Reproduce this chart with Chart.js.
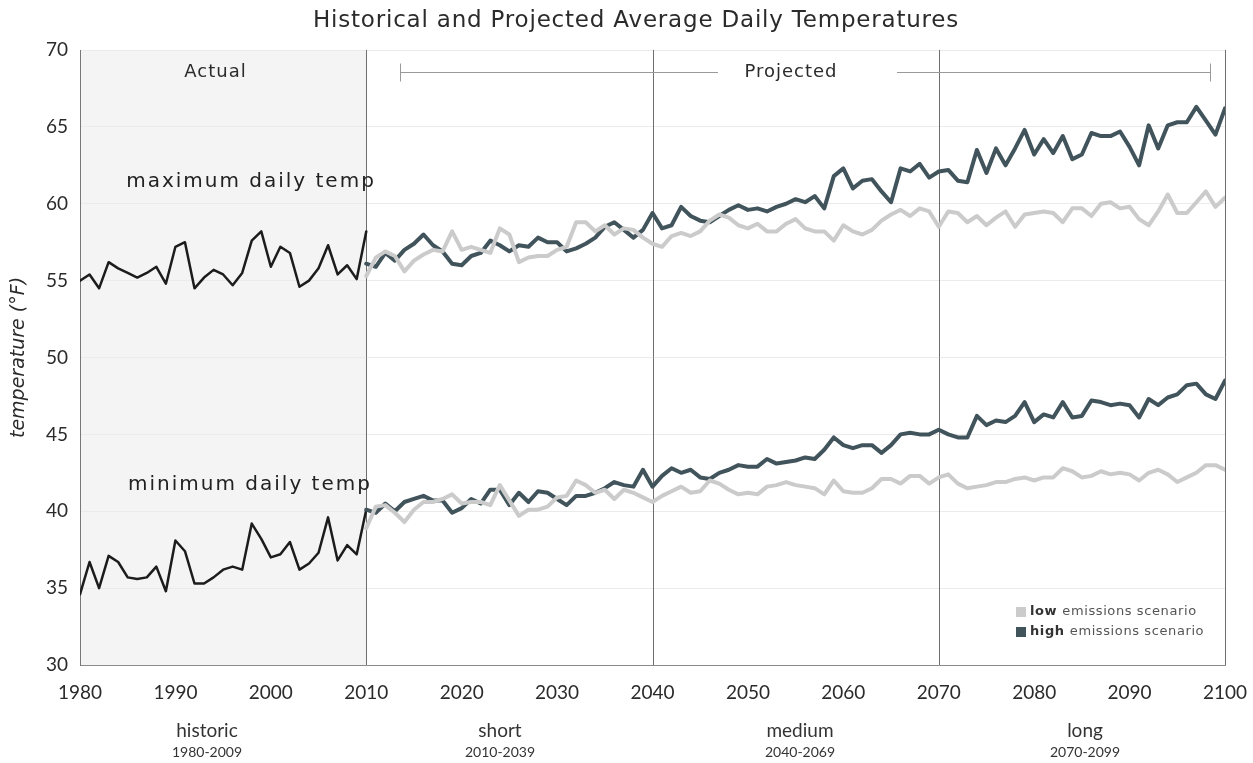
<!DOCTYPE html>
<html>
<head>
<meta charset="utf-8">
<title>Historical and Projected Average Daily Temperatures</title>
<script src="https://cdn.jsdelivr.net/npm/chart.js@4.4.1/dist/chart.umd.min.js"></script>
<style>
  html, body { margin: 0; padding: 0; background: #fff; }
  #wrap { width: 1253px; height: 763px; }
</style>
</head>
<body>
<div id="wrap"><canvas id="tempChart" width="1253" height="763"></canvas></div>
<script>
// years
const histStart = 1980;
const projStart = 2010;

// historic observed (1980-2010)
const histMax = [55.0, 55.4, 54.5, 56.2, 55.8, 55.5, 55.2, 55.5, 55.9, 54.8, 57.2, 57.5, 54.5, 55.2, 55.7, 55.4,
  54.7, 55.5, 57.6, 58.2, 55.9, 57.2, 56.8, 54.6, 55.0, 55.8, 57.3, 55.4, 56.0, 55.1, 58.2];
const histMin = [34.6, 36.7, 35.0, 37.1, 36.7, 35.7, 35.6, 35.7, 36.4, 34.8, 38.1, 37.4, 35.3, 35.3, 35.7, 36.2,
  36.4, 36.2, 39.2, 38.2, 37.0, 37.2, 38.0, 36.2, 36.6, 37.3, 39.6, 36.8, 37.8, 37.2, 40.1];

// projections (2010-2100)
const highMax = [56.1, 55.9, 56.8, 56.3, 57.0, 57.4, 58.0, 57.3, 56.9, 56.1,
  56.0, 56.6, 56.8, 57.6, 57.3, 56.9, 57.3, 57.2, 57.8, 57.5,
  57.5, 56.9, 57.1, 57.4, 57.8, 58.5, 58.8, 58.3, 57.8, 58.3,
  59.4, 58.4, 58.6, 59.8, 59.2, 58.9, 58.8, 59.2, 59.6, 59.9,
  59.6, 59.7, 59.5, 59.8, 60.0, 60.3, 60.1, 60.5, 59.7, 61.8,
  62.3, 61.0, 61.5, 61.6, 60.8, 60.1, 62.3, 62.1, 62.6, 61.7,
  62.1, 62.2, 61.5, 61.4, 63.5, 62.0, 63.6, 62.5, 63.6, 64.8,
  63.2, 64.2, 63.3, 64.4, 62.9, 63.2, 64.6, 64.4, 64.4, 64.7,
  63.7, 62.5, 65.1, 63.6, 65.1, 65.3, 65.3, 66.3, 65.4, 64.5,
  66.2];
const lowMax = [55.3, 56.5, 56.9, 56.6, 55.6, 56.3, 56.7, 57.0, 56.9, 58.2,
  57.0, 57.2, 57.0, 56.8, 58.4, 58.0, 56.2, 56.5, 56.6, 56.6,
  57.0, 57.2, 58.8, 58.8, 58.2, 58.6, 58.0, 58.4, 58.3, 57.8,
  57.4, 57.2, 57.9, 58.1, 57.9, 58.2, 58.9, 59.3, 59.1, 58.6,
  58.4, 58.7, 58.2, 58.2, 58.7, 59.0, 58.4, 58.2, 58.2, 57.6,
  58.6, 58.2, 58.0, 58.3, 58.9, 59.3, 59.6, 59.2, 59.7, 59.5,
  58.5, 59.5, 59.4, 58.8, 59.2, 58.6, 59.1, 59.5, 58.5, 59.3,
  59.4, 59.5, 59.4, 58.8, 59.7, 59.7, 59.2, 60.0, 60.1, 59.7,
  59.8, 59.0, 58.6, 59.5, 60.6, 59.4, 59.4, 60.1, 60.8, 59.8,
  60.4];
const highMin = [40.1, 39.9, 40.5, 40.0, 40.6, 40.8, 41.0, 40.7, 40.7, 39.9,
  40.2, 40.8, 40.5, 41.4, 41.4, 40.4, 41.2, 40.6, 41.3, 41.2,
  40.8, 40.4, 41.0, 41.0, 41.2, 41.5, 41.9, 41.7, 41.6, 42.7,
  41.6, 42.3, 42.8, 42.5, 42.7, 42.2, 42.1, 42.5, 42.7, 43.0,
  42.9, 42.9, 43.4, 43.1, 43.2, 43.3, 43.5, 43.4, 44.0, 44.8,
  44.3, 44.1, 44.3, 44.3, 43.8, 44.3, 45.0, 45.1, 45.0, 45.0,
  45.3, 45.0, 44.8, 44.8, 46.2, 45.6, 45.9, 45.8, 46.2, 47.1,
  45.8, 46.3, 46.1, 47.1, 46.1, 46.2, 47.2, 47.1, 46.9, 47.0,
  46.9, 46.1, 47.3, 46.9, 47.4, 47.6, 48.2, 48.3, 47.6, 47.3,
  48.5];
const lowMin = [38.9, 40.3, 40.4, 39.9, 39.3, 40.1, 40.6, 40.6, 40.8, 41.1,
  40.5, 40.6, 40.6, 40.4, 41.7, 40.7, 39.7, 40.1, 40.1, 40.3,
  40.9, 41.0, 42.0, 41.7, 41.2, 41.4, 40.8, 41.4, 41.2, 40.9,
  40.6, 41.0, 41.3, 41.6, 41.2, 41.3, 42.0, 41.8, 41.4, 41.1,
  41.2, 41.1, 41.6, 41.7, 41.9, 41.7, 41.6, 41.5, 41.1, 42.0,
  41.3, 41.2, 41.2, 41.5, 42.1, 42.1, 41.8, 42.3, 42.3, 41.8,
  42.2, 42.4, 41.8, 41.5, 41.6, 41.7, 41.9, 41.9, 42.1, 42.2,
  42.0, 42.2, 42.2, 42.8, 42.6, 42.2, 42.3, 42.6, 42.4, 42.5,
  42.4, 42.0, 42.5, 42.7, 42.4, 41.9, 42.2, 42.5, 43.0, 43.0,
  42.7];

// axis / labels
const yTicks = [30, 35, 40, 45, 50, 55, 60, 65, 70];
const xTicks = [1980, 1990, 2000, 2010, 2020, 2030, 2040, 2050, 2060, 2070, 2080, 2090, 2100];
const dividers = [2010, 2040, 2070, 2100];
const periodNames = ['historic', 'short', 'medium', 'long'];
const periodRanges = ['1980-2009', '2010-2039', '2040-2069', '2070-2099'];

const FONT = 'Lato, "DejaVu Sans", sans-serif';
const WIDE = '"DejaVu Sans", sans-serif';
const DARK = '#41535b';
const LIGHT = '#cbcbcb';

function toPoints(start, vals) {
  return vals.map((v, i) => ({ x: start + i, y: v }));
}

const decor = {
  id: 'decor',
  beforeDraw(chart) {
    const { ctx, chartArea: a, scales: { x } } = chart;
    const x0 = x.getPixelForValue(histStart);
    const x1 = x.getPixelForValue(projStart);
    ctx.save();
    ctx.fillStyle = '#f4f4f4';
    ctx.fillRect(x0, a.top, x1 - x0, a.bottom - a.top);
    ctx.restore();
  },
  beforeDatasetsDraw(chart) {
    const { ctx, chartArea: a, scales: { x } } = chart;
    ctx.save();
    ctx.strokeStyle = '#6e6e6e';
    ctx.lineWidth = 1;
    dividers.forEach(yr => {
      const px = Math.round(x.getPixelForValue(yr)) + 0.5;
      ctx.beginPath();
      ctx.moveTo(px, a.top);
      ctx.lineTo(px, a.bottom);
      ctx.stroke();
    });
    ctx.restore();
  },
  afterDraw(chart) {
    const { ctx, scales: { x, y } } = chart;
    ctx.save();
    ctx.fillStyle = '#2b2b2b';
    ctx.textBaseline = 'middle';
    ctx.textAlign = 'center';

    // title
    ctx.font = '23px ' + WIDE;
    ctx.letterSpacing = '0.8px';
    ctx.fillText('Historical and Projected Average Daily Temperatures', 636, 21);

    // Actual / Projected
    ctx.font = '18px ' + WIDE;
    ctx.letterSpacing = '1px';
    ctx.fillText('Actual', x.getPixelForValue(1994.2), 72);
    ctx.fillText('Projected', 791, 72);

    ctx.strokeStyle = '#9a9a9a';
    ctx.lineWidth = 1;
    const bl = 400, br = 1210, by = 72.5;
    ctx.beginPath();
    ctx.moveTo(bl, by); ctx.lineTo(718, by);
    ctx.moveTo(897, by); ctx.lineTo(br, by);
    ctx.moveTo(bl + 0.5, by - 9); ctx.lineTo(bl + 0.5, by + 9);
    ctx.moveTo(br + 0.5, by - 9); ctx.lineTo(br + 0.5, by + 9);
    ctx.stroke();

    // series labels
    ctx.fillStyle = '#222';
    ctx.font = '20px ' + WIDE;
    ctx.letterSpacing = '2px';
    ctx.fillText('maximum daily temp', 251, y.getPixelForValue(61.45));
    ctx.fillText('minimum daily temp', 250, y.getPixelForValue(41.75));

    // period labels under the axis
    ctx.letterSpacing = '0px';
    const labelX = [207, 500, 800, 1085];
    periodNames.forEach((n, i) => {
      ctx.fillStyle = '#333';
      ctx.font = '19px ' + FONT;
      ctx.fillText(n, labelX[i], 731);
      ctx.font = '14px ' + FONT;
      ctx.fillText(periodRanges[i], labelX[i], 752);
    });

    // legend
    const lx = 1016;
    const rows = [['low', LIGHT, 612], ['high', DARK, 632]];
    ctx.letterSpacing = '0.6px';
    rows.forEach(([word, col, ly]) => {
      ctx.fillStyle = col;
      ctx.fillRect(lx, ly - 5, 10, 10);
      ctx.textAlign = 'left';
      ctx.font = 'bold 13px ' + WIDE;
      ctx.fillStyle = '#333';
      ctx.fillText(word, lx + 14, ly);
      const w = ctx.measureText(word + ' ').width;
      ctx.font = '13px ' + WIDE;
      ctx.fillStyle = '#555';
      ctx.fillText('emissions scenario', lx + 14 + w, ly);
    });
    ctx.restore();
  }
};

const lineDefaults = { pointRadius: 0, tension: 0, fill: false, borderJoinStyle: 'round', borderCapStyle: 'round' };

new Chart(document.getElementById('tempChart'), {
  type: 'line',
  data: {
    datasets: [
      Object.assign({ label: 'low max', data: toPoints(projStart, lowMax), borderColor: LIGHT, borderWidth: 4 }, lineDefaults),
      Object.assign({ label: 'low min', data: toPoints(projStart, lowMin), borderColor: LIGHT, borderWidth: 4 }, lineDefaults),
      Object.assign({ label: 'high max', data: toPoints(projStart, highMax), borderColor: DARK, borderWidth: 4 }, lineDefaults),
      Object.assign({ label: 'high min', data: toPoints(projStart, highMin), borderColor: DARK, borderWidth: 4 }, lineDefaults),
      Object.assign({ label: 'actual max', data: toPoints(histStart, histMax), borderColor: '#1c1c1c', borderWidth: 2.5 }, lineDefaults),
      Object.assign({ label: 'actual min', data: toPoints(histStart, histMin), borderColor: '#1c1c1c', borderWidth: 2.5 }, lineDefaults)
    ]
  },
  options: {
    responsive: false,
    animation: false,
    layout: { padding: { top: 50, right: 28, left: 0, bottom: 0 } },
    plugins: { legend: { display: false }, tooltip: { enabled: false } },
    scales: {
      x: {
        type: 'linear',
        min: 1980,
        max: 2100,
        afterBuildTicks: s => { s.ticks = xTicks.map(v => ({ value: v })); },
        afterFit: s => { s.height = 98; s.paddingRight = 0; s.paddingLeft = 0; },
        grid: { display: false },
        border: { display: true, color: '#8a8a8a', width: 1 },
        ticks: {
          color: '#2b2b2b',
          font: { family: FONT, size: 19 },
          padding: 8,
          maxRotation: 0,
          callback: v => String(v)
        }
      },
      y: {
        min: 30,
        max: 70,
        afterBuildTicks: s => { s.ticks = yTicks.map(v => ({ value: v })); },
        afterFit: s => { s.width = 80; },
        grid: { color: '#ebebeb', drawTicks: false },
        border: { display: true, color: '#777', width: 1 },
        title: {
          display: true,
          text: 'temperature (°F)',
          color: '#2b2b2b',
          font: { family: WIDE, size: 19, style: 'italic' },
          padding: { top: 8, bottom: 4 }
        },
        ticks: {
          color: '#2b2b2b',
          font: { family: FONT, size: 19 },
          padding: 12
        }
      }
    }
  },
  plugins: [decor]
});
</script>
</body>
</html>
